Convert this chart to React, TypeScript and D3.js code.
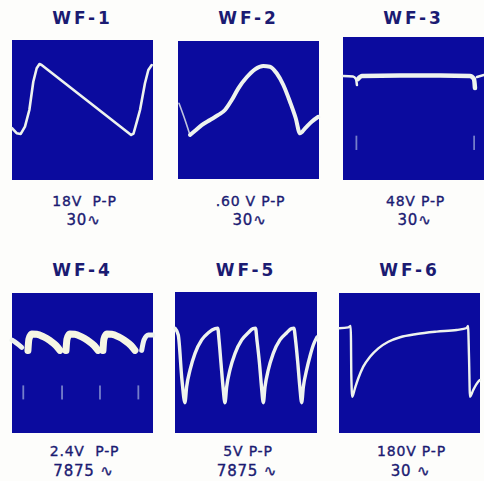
import React from "react";
import * as d3 from "d3";

type Pt = [number, number];

// ---- labels ----
const titles = ["WF-1", "WF-2", "WF-3", "WF-4", "WF-5", "WF-6"];
const voltages = ["18V  P-P", ".60 V P-P", "48V P-P", "2.4V  P-P", "5V P-P", "180V P-P"];
const freqs = ["30∿", "30∿", "30∿", "7875 ∿", "7875 ∿", "30 ∿"];

// ---- traces (screen divisions: x 0..10 left→right, y 0..10 bottom→top) ----
const wf1Trace: Pt[] = [
  [0.0, 3.7], [0.33, 3.34], [0.62, 3.29], [0.92, 3.81], [1.23, 5.0], [1.51, 7.02],
  [1.75, 7.98], [1.95, 8.28], [2.1, 8.22], [8.45, 3.22], [8.62, 3.32], [8.89, 4.29], [9.08, 5.0],
  [9.43, 6.91], [9.67, 7.86], [9.91, 8.21],
];

const wf2Lead: Pt[] = [[0.07, 5.49], [0.5, 4.28], [0.85, 3.19]];
const wf2Trace: Pt[] = [
  [0.85, 3.19], [1.21, 3.5], [1.68, 3.91], [2.27, 4.28], [2.86, 4.64], [3.33, 5.0],
  [3.81, 5.72], [4.28, 6.57], [4.87, 7.37], [5.46, 7.95], [6.05, 8.19], [6.52, 8.14],
  [7.0, 7.66], [7.47, 6.81], [7.94, 5.6], [8.35, 4.4], [8.65, 3.31], [9.01, 3.67],
  [9.48, 4.15], [9.95, 4.51],
];

const wf3Left: Pt[] = [[0.0, 7.27], [0.71, 7.24], [0.92, 7.06], [0.99, 6.64]];
const wf3Top: Pt[] = [
  [1.06, 7.06], [1.35, 7.27], [4.04, 7.31], [6.88, 7.31], [9.0, 7.27], [9.29, 7.06], [9.36, 6.43],
];
const wf3Right: Pt[] = [[9.5, 7.2], [10.0, 7.34]];
const wf3Marks: Pt[] = [[0.95, 3.1], [9.3, 3.1]];

const wf4Left: Pt[] = [[0.0, 6.64], [0.33, 6.41], [0.69, 6.12]];
const wf4Pulse1: Pt[] = [
  [1.13, 5.9], [1.2, 6.7], [1.4, 7.07], [1.75, 7.05], [2.22, 6.88], [2.7, 6.6], [3.12, 6.25], [3.4, 5.9],
];
const wf4Pulse2: Pt[] = [
  [3.83, 5.9], [3.9, 6.7], [4.09, 7.07], [4.45, 7.05], [4.91, 6.88], [5.39, 6.6], [5.82, 6.25], [6.1, 5.9],
];
const wf4Pulse3: Pt[] = [
  [6.45, 5.9], [6.52, 6.7], [6.72, 7.07], [7.07, 7.05], [7.54, 6.88], [8.01, 6.6], [8.44, 6.25], [8.72, 5.9],
];
const wf4Right: Pt[] = [[9.2, 5.9], [9.36, 6.64], [9.67, 7.0], [9.98, 7.0]];
const wf4Marks: Pt[] = [[0.8, 3.4], [3.55, 3.4], [6.24, 3.4], [8.96, 3.4]];

const wf5Trace: Pt[] = [
  [0.0, 7.43], [0.23, 6.95], [0.49, 3.76], [0.7, 2.15],
  [0.82, 3.28], [1.06, 4.47], [1.41, 5.65], [1.88, 6.6], [2.35, 7.11], [2.82, 7.4], [3.01, 7.43],
  [3.1, 6.6], [3.24, 4.94], [3.38, 3.28], [3.52, 2.15],
  [3.64, 3.28], [3.87, 4.47], [4.23, 5.65], [4.7, 6.6], [5.16, 7.11], [5.49, 7.4], [5.67, 7.43],
  [5.77, 6.6], [5.95, 4.94], [6.09, 3.28], [6.22, 2.15],
  [6.34, 3.28], [6.57, 4.47], [6.92, 5.65], [7.39, 6.6], [7.87, 7.11], [8.2, 7.4], [8.37, 7.43],
  [8.49, 6.6], [8.65, 4.94], [8.79, 3.28], [8.92, 2.15],
  [9.04, 3.28], [9.27, 4.47], [9.51, 5.46], [9.74, 6.24], [10.0, 6.81],
];

const wf6Trace: Pt[] = [
  [0.0, 7.48], [0.66, 7.55], [0.83, 7.64], [0.85, 6.64], [0.87, 4.26], [0.94, 2.59],
  [1.13, 3.19], [1.37, 3.91], [1.72, 4.74], [2.2, 5.45], [2.79, 6.05], [3.5, 6.52],
  [4.33, 6.84], [5.51, 7.07], [6.93, 7.24], [8.35, 7.36], [9.06, 7.5], [9.15, 7.64],
  [9.22, 5.45], [9.29, 2.59], [9.52, 3.07], [9.87, 3.66], [10.0, 3.79],
];

// ---- layout ----
const W = 484;
const H = 481;
const BLUE = "#0b0b9e";
const TRACE = "#eef3ee";
const INK = "#1b1b72";

interface Seg { pts: Pt[]; width: number; opacity?: number; color?: string; straight?: boolean }
interface PanelDef {
  x: number; y: number; w: number; h: number;
  segs: Seg[];
  marks?: Pt[];
  titleY: number; capY1: number; capY2: number;
}

const panels: PanelDef[] = [
  { x: 12, y: 40, w: 141, h: 140, titleY: 24, capY1: 206, capY2: 225,
    segs: [{ pts: wf1Trace, width: 2.6, straight: true }] },
  { x: 178, y: 41, w: 141, h: 138, titleY: 24, capY1: 206, capY2: 225,
    segs: [{ pts: wf2Lead, width: 1.6, opacity: 0.8 }, { pts: wf2Trace, width: 4 }] },
  { x: 343, y: 37, w: 141, h: 143, titleY: 24, capY1: 206, capY2: 225,
    segs: [{ pts: wf3Left, width: 2.5 }, { pts: wf3Top, width: 4.5 }, { pts: wf3Right, width: 2.5 }],
    marks: wf3Marks },
  { x: 12, y: 293, w: 141, h: 140, titleY: 276, capY1: 456, capY2: 476,
    segs: [
      { pts: wf4Left, width: 5 },
      { pts: wf4Pulse1, width: 7, color: "#f6f6e4" },
      { pts: wf4Pulse2, width: 7, color: "#f6f6e4" },
      { pts: wf4Pulse3, width: 7, color: "#f6f6e4" },
      { pts: wf4Right, width: 5 },
    ],
    marks: wf4Marks },
  { x: 175, y: 292, w: 142, h: 141, titleY: 276, capY1: 456, capY2: 476,
    segs: [{ pts: wf5Trace, width: 3.4 }] },
  { x: 339, y: 293, w: 141, h: 140, titleY: 276, capY1: 456, capY2: 476,
    segs: [{ pts: wf6Trace, width: 2.4 }] },
];

function Panel({ p, i }: { p: PanelDef; i: number }) {
  const xs = d3.scaleLinear().domain([0, 10]).range([p.x, p.x + p.w]);
  const ys = d3.scaleLinear().domain([0, 10]).range([p.y + p.h, p.y]);
  const smooth = d3.line<Pt>().x((d) => xs(d[0])).y((d) => ys(d[1])).curve(d3.curveMonotoneX);
  const straight = d3.line<Pt>().x((d) => xs(d[0])).y((d) => ys(d[1])).curve(d3.curveLinear);
  const cx = p.x + p.w / 2;
  return (
    <g>
      <rect x={p.x} y={p.y} width={p.w} height={p.h} fill={BLUE} />
      {p.segs.map((s, k) => (
        <path
          key={k}
          d={(s.straight ? straight : smooth)(s.pts) || ""}
          fill="none"
          stroke={s.color ?? TRACE}
          strokeWidth={s.width}
          strokeOpacity={s.opacity ?? 1}
          strokeLinecap="round"
          strokeLinejoin="round"
        />
      ))}
      {(p.marks || []).map((m, k) => (
        <line
          key={k}
          x1={xs(m[0])}
          x2={xs(m[0])}
          y1={ys(m[1])}
          y2={ys(m[1] - 1.0)}
          stroke="#9aa6d8"
          strokeWidth={1.8}
          strokeOpacity={0.75}
        />
      ))}
      <text
        x={cx}
        y={p.titleY}
        textAnchor="middle"
        fontFamily="DejaVu Sans, sans-serif"
        fontWeight="bold"
        fontSize={17}
        letterSpacing={3}
        fill={INK}
      >
        {titles[i]}
      </text>
      <text
        x={cx + 2}
        y={p.capY1}
        textAnchor="middle"
        fontFamily="DejaVu Sans, sans-serif"
        fontSize={14}
        letterSpacing={0.8}
        fill={INK}
        stroke={INK}
        strokeWidth={0.35}
        style={{ whiteSpace: "pre" }}
      >
        {voltages[i]}
      </text>
      <text
        x={cx + 1}
        y={p.capY2}
        textAnchor="middle"
        fontFamily="DejaVu Sans, sans-serif"
        fontSize={15}
        letterSpacing={0.8}
        fill={INK}
        stroke={INK}
        strokeWidth={0.35}
        style={{ whiteSpace: "pre" }}
      >
        {freqs[i]}
      </text>
    </g>
  );
}

export default function App() {
  return (
    <svg
      width={W}
      height={H}
      viewBox={`0 0 ${W} ${H}`}
      style={{ position: "absolute", left: 0, top: 0, background: "#fdfdfb" }}
    >
      <rect width={W} height={H} fill="#fdfdfb" />
      {panels.map((p, i) => (
        <Panel key={i} p={p} i={i} />
      ))}
    </svg>
  );
}
